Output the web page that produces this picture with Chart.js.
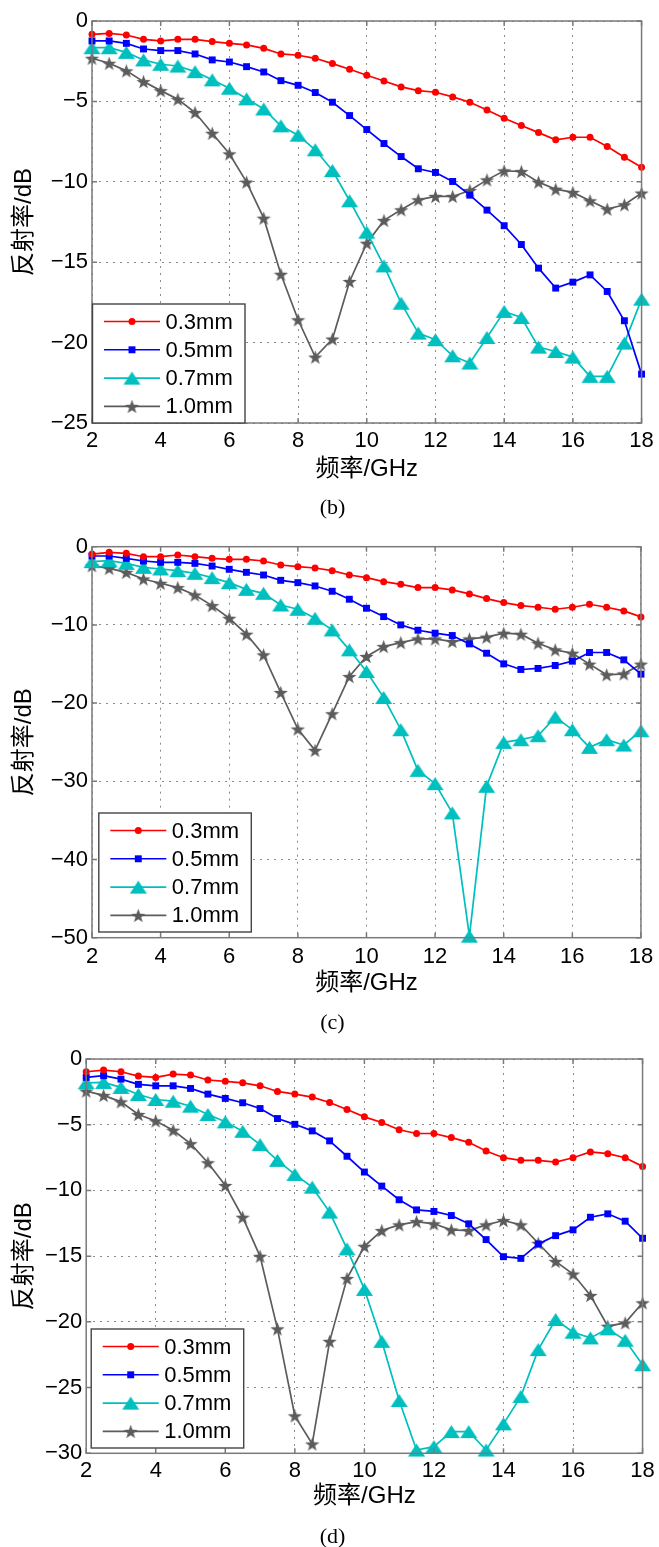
<!DOCTYPE html>
<html>
<head>
<meta charset="utf-8">
<script src="https://cdn.jsdelivr.net/npm/chart.js@4.4.0/dist/chart.umd.min.js"></script>
<style>
    html, body { margin: 0; padding: 0; background: #fff; }
    body { width: 659px; height: 1547px; position: relative; overflow: hidden; }
    .panel { position: absolute; left: 0; width: 659px; }
    .caption {
        position: absolute; left: 3px; width: 659px; text-align: center;
        font-family: 'Liberation Serif', 'Times New Roman', serif;
        font-size: 22px; line-height: 22px; color: #000;
    }
</style>
</head>
<body>
<div class="panel" style="top:0px"><canvas id="chartB" width="659" height="496"></canvas></div>
<div class="caption" style="top:496px">(b)</div>
<div class="panel" style="top:524px"><canvas id="chartC" width="659" height="487"></canvas></div>
<div class="caption" style="top:1011px">(c)</div>
<div class="panel" style="top:1039px"><canvas id="chartD" width="659" height="486"></canvas></div>
<div class="caption" style="top:1525px">(d)</div>

<script>
// frequency points (GHz)
const freq = [2, 2.5, 3, 3.5, 4, 4.5, 5, 5.5, 6, 6.5, 7, 7.5, 8, 8.5, 9, 9.5, 10,
    10.5, 11, 11.5, 12, 12.5, 13, 13.5, 14, 14.5, 15, 15.5, 16, 16.5, 17, 17.5, 18];
const seriesLabels = ['0.3mm', '0.5mm', '0.7mm', '1.0mm'];
const xTicks = [2, 4, 6, 8, 10, 12, 14, 16, 18];

// (b)
const yTicksB = [0, -5, -10, -15, -20, -25];
const b03 = [-0.83, -0.77, -0.87, -1.14, -1.24, -1.14, -1.14, -1.28, -1.39, -1.49, -1.70, -2.05, -2.13, -2.32, -2.65, -3.00, -3.37,
    -3.73, -4.10, -4.33, -4.43, -4.72, -5.05, -5.53, -6.05, -6.50, -6.94, -7.39, -7.23, -7.23, -7.80, -8.47, -9.09];
const b05 = [-1.24, -1.24, -1.39, -1.74, -1.84, -1.84, -2.05, -2.42, -2.55, -2.84, -3.17, -3.71, -4.00, -4.45, -5.05, -5.88, -6.75,
    -7.62, -8.43, -9.19, -9.42, -9.98, -10.83, -11.76, -12.73, -13.90, -15.37, -16.61, -16.24, -15.79, -16.82, -18.64, -21.96];
const b07 = [-1.66, -1.66, -1.95, -2.42, -2.69, -2.80, -3.15, -3.66, -4.18, -4.84, -5.47, -6.52, -7.10, -8.01, -9.30, -11.18, -13.13,
    -15.23, -17.55, -19.41, -19.82, -20.82, -21.27, -19.68, -18.06, -18.44, -20.28, -20.55, -20.90, -22.10, -22.10, -20.03, -17.30];
const b10 = [-2.32, -2.63, -3.10, -3.77, -4.33, -4.87, -5.69, -6.98, -8.26, -10.02, -12.26, -15.75, -18.58, -20.90, -19.78, -16.20, -13.82,
    -12.40, -11.74, -11.12, -10.91, -10.91, -10.54, -9.88, -9.32, -9.36, -10.02, -10.46, -10.66, -11.18, -11.70, -11.43, -10.70];

// (c)
const yTicksC = [0, -10, -20, -30, -40, -50];
const c03 = [-0.94, -0.72, -0.85, -1.28, -1.28, -1.06, -1.28, -1.49, -1.62, -1.62, -1.83, -2.34, -2.55, -2.72, -3.06, -3.62, -3.96,
    -4.47, -4.81, -5.23, -5.23, -5.53, -6.04, -6.64, -7.15, -7.53, -7.74, -8.00, -7.74, -7.36, -7.74, -8.21, -8.98];
const c05 = [-1.19, -1.19, -1.49, -1.83, -2.00, -2.00, -2.13, -2.47, -2.89, -3.28, -3.62, -4.30, -4.60, -5.02, -5.70, -6.72, -7.87,
    -8.94, -10.00, -10.68, -11.06, -11.36, -12.43, -13.62, -14.98, -15.70, -15.57, -15.19, -14.64, -13.53, -13.53, -14.47, -16.30];
const c07 = [-1.91, -1.79, -2.13, -2.64, -2.85, -3.06, -3.40, -3.96, -4.60, -5.45, -5.96, -7.45, -8.00, -9.15, -10.64, -13.19, -15.96,
    -19.28, -23.40, -28.60, -30.30, -34.04, -49.80, -30.64, -25.02, -24.68, -24.17, -21.79, -23.40, -25.66, -24.68, -25.36, -23.53];
const c10 = [-2.43, -2.77, -3.28, -4.13, -4.68, -5.23, -6.17, -7.53, -9.15, -11.19, -13.83, -18.64, -23.32, -26.04, -21.36, -16.60, -14.04,
    -12.77, -12.26, -11.79, -11.79, -12.13, -11.79, -11.57, -11.06, -11.19, -12.34, -13.19, -13.62, -15.02, -16.38, -16.26, -15.02];

// (d)
const yTicksD = [0, -5, -10, -15, -20, -25, -30];
const d03 = [-0.97, -0.84, -0.97, -1.30, -1.40, -1.15, -1.22, -1.60, -1.70, -1.81, -2.04, -2.47, -2.67, -2.90, -3.31, -3.84, -4.40,
    -4.83, -5.38, -5.67, -5.67, -5.98, -6.34, -7.00, -7.51, -7.71, -7.71, -7.84, -7.51, -7.07, -7.20, -7.51, -8.17];
const d05 = [-1.40, -1.27, -1.53, -1.93, -2.04, -2.04, -2.24, -2.67, -3.00, -3.33, -3.77, -4.53, -4.97, -5.47, -6.23, -7.40, -8.60,
    -9.67, -10.71, -11.48, -11.60, -11.91, -12.54, -13.74, -15.04, -15.17, -14.07, -13.44, -13.00, -12.04, -11.78, -12.34, -13.64];
const d07 = [-1.81, -1.78, -2.16, -2.70, -3.08, -3.21, -3.59, -4.22, -4.78, -5.50, -6.51, -7.71, -8.78, -9.75, -11.65, -14.45, -17.53,
    -21.48, -25.98, -29.75, -29.49, -28.35, -28.35, -29.75, -27.76, -25.67, -22.11, -19.82, -20.79, -21.22, -20.53, -21.40, -23.26];
const d10 = [-2.44, -2.77, -3.26, -4.22, -4.71, -5.42, -6.44, -7.89, -9.62, -12.04, -15.01, -20.53, -27.15, -29.29, -21.48, -16.70, -14.25,
    -13.05, -12.62, -12.37, -12.54, -13.00, -13.05, -12.62, -12.29, -12.62, -14.02, -15.40, -16.36, -17.99, -20.33, -20.08, -18.55];

Chart.defaults.font.family = "'Liberation Sans', Arial, 'Noto Sans CJK SC', sans-serif";
Chart.defaults.font.size = 22;
Chart.defaults.color = '#000';

// marker images (MATLAB-like filled triangle and pentagram)
function makeTriangle(w, h, color) {
    const c = document.createElement('canvas');
    c.width = w + 2; c.height = h + 2;
    const g = c.getContext('2d');
    g.fillStyle = color;
    g.beginPath();
    g.moveTo(c.width / 2, 1);
    g.lineTo(1, h + 1);
    g.lineTo(w + 1, h + 1);
    g.closePath();
    g.fill();
    return c;
}

function makeStar(r, color) {
    const s = Math.ceil(r * 2 + 2);
    const c = document.createElement('canvas');
    c.width = s; c.height = s;
    const g = c.getContext('2d');
    g.fillStyle = color;
    g.beginPath();
    for (let i = 0; i < 10; i++) {
        const rr = i % 2 ? r * 0.4 : r;
        const a = -Math.PI / 2 + i * Math.PI / 5;
        g.lineTo(s / 2 + rr * Math.cos(a), s / 2 + 0.8 + rr * Math.sin(a));
    }
    g.closePath();
    g.fill();
    return c;
}

const cyan = '#00bfbf';
const gray = '#5c5c5c';
const triImg = makeTriangle(17, 13, cyan);
const starImg = makeStar(7.5, gray);

const styles = [
    { borderColor: '#ff0000', backgroundColor: '#ff0000', pointStyle: 'circle', pointRadius: 3.5 },
    { borderColor: '#0000ff', backgroundColor: '#0000ff', pointStyle: 'rect', pointRadius: 4.9 },
    { borderColor: cyan, backgroundColor: cyan, pointStyle: triImg, pointRadius: 8 },
    { borderColor: gray, backgroundColor: gray, pointStyle: starImg, pointRadius: 8 }
];

function drawMarker(ctx, st, x, y) {
    const ps = st.pointStyle;
    ctx.fillStyle = st.backgroundColor;
    if (ps === 'circle') {
        ctx.beginPath();
        ctx.arc(x, y, st.pointRadius, 0, Math.PI * 2);
        ctx.fill();
    } else if (ps === 'rect') {
        const h = st.pointRadius * Math.SQRT1_2;
        ctx.fillRect(x - h, y - h, 2 * h, 2 * h);
    } else {
        ctx.drawImage(ps, x - ps.width / 2, y - ps.height / 2);
    }
}

// axes box, inward ticks and legend inside plot (lower-left)
const boxPlugin = {
    id: 'boxLegend',
    afterDraw(chart, args, opts) {
        const ctx = chart.ctx;
        const a = chart.chartArea;
        const xs = chart.scales.x, ys = chart.scales.y;
        ctx.save();
        ctx.strokeStyle = '#7a7a7a';
        ctx.lineWidth = 1.5;
        ctx.beginPath();
        xs.ticks.forEach(t => {
            const px = xs.getPixelForValue(t.value);
            ctx.moveTo(px, a.bottom); ctx.lineTo(px, a.bottom - 5);
            ctx.moveTo(px, a.top); ctx.lineTo(px, a.top + 5);
        });
        ys.ticks.forEach(t => {
            const py = ys.getPixelForValue(t.value);
            ctx.moveTo(a.left, py); ctx.lineTo(a.left + 5, py);
            ctx.moveTo(a.right, py); ctx.lineTo(a.right - 5, py);
        });
        ctx.stroke();
        ctx.strokeRect(a.left, a.top, a.right - a.left, a.bottom - a.top);

        // legend
        const w = 152.5, h = 119;
        const lx = a.left + opts.dx, ly = a.bottom - opts.dy - h;
        ctx.fillStyle = '#fff';
        ctx.fillRect(lx, ly, w, h);
        ctx.strokeStyle = '#444';
        ctx.lineWidth = 1.4;
        ctx.strokeRect(lx, ly, w, h);
        ctx.font = "22px 'Liberation Sans', Arial, sans-serif";
        ctx.textBaseline = 'middle';
        ctx.textAlign = 'left';
        chart.data.datasets.forEach((ds, i) => {
            const y = ly + 17.5 + i * 28.3;
            ctx.strokeStyle = ds.borderColor;
            ctx.lineWidth = 1.6;
            ctx.beginPath();
            ctx.moveTo(lx + 11.5, y); ctx.lineTo(lx + 67.5, y);
            ctx.stroke();
            drawMarker(ctx, styles[i], lx + 39.5, y);
            ctx.fillStyle = '#000';
            ctx.fillText(ds.label, lx + 73, y + 1);
        });
        ctx.restore();
    }
};

const minusSign = v => String(v).replace('-', '\u2212');

function makeChart(id, series, yTicks, lay) {
    const canvas = document.getElementById(id);
    return new Chart(canvas, {
        type: 'line',
        data: {
            datasets: series.map((vals, i) => ({
                label: seriesLabels[i],
                data: vals.map((v, j) => ({ x: freq[j], y: v })),
                borderColor: styles[i].borderColor,
                backgroundColor: styles[i].backgroundColor,
                pointBackgroundColor: styles[i].backgroundColor,
                pointBorderWidth: 0,
                pointStyle: styles[i].pointStyle,
                pointRadius: styles[i].pointRadius,
                borderWidth: 1.7,
                tension: 0,
                fill: false,
                clip: false
            }))
        },
        options: {
            responsive: false,
            animation: false,
            devicePixelRatio: 1,
            layout: { padding: { top: lay.padTop, left: 0, right: 15.5, bottom: 0 } },
            plugins: {
                legend: { display: false },
                tooltip: { enabled: false },
                boxLegend: { dx: lay.dx, dy: lay.dy }
            },
            scales: {
                x: {
                    type: 'linear',
                    min: xTicks[0],
                    max: xTicks[xTicks.length - 1],
                    afterBuildTicks: s => { s.ticks = xTicks.map(v => ({ value: v })); },
                    afterFit: s => { s.height = lay.xh; },
                    ticks: { color: '#000', padding: lay.xPad, maxRotation: 0, autoSkip: false, callback: minusSign },
                    grid: { color: '#8c8c8c', lineWidth: 1, drawTicks: false },
                    border: { display: false, dash: [2, 5] },
                    title: { display: true, text: '频率/GHz', color: '#000', font: { size: 24 },
                        padding: { top: 0, bottom: lay.xtPad - 1.2 } }
                },
                y: {
                    type: 'linear',
                    min: yTicks[yTicks.length - 1],
                    max: yTicks[0],
                    afterBuildTicks: s => { s.ticks = yTicks.slice().reverse().map(v => ({ value: v })); },
                    afterFit: s => { s.width = lay.yw; },
                    ticks: { color: '#000', padding: 4, autoSkip: false, callback: minusSign },
                    grid: { color: '#8c8c8c', lineWidth: 1, drawTicks: false },
                    border: { display: false, dash: [2, 5] },
                    title: { display: true, text: '反射率/dB', color: '#000', font: { size: 24 },
                        padding: { top: 9.6, bottom: 0 } }
                }
            }
        },
        plugins: [boxPlugin]
    });
}

makeChart('chartB', [b03, b05, b07, b10], yTicksB,
    { padTop: 21, xh: 73, xPad: 5.2, xtPad: 13.5, yw: 92, dx: 0.5, dy: 0 });
makeChart('chartC', [c03, c05, c07, c10], yTicksC,
    { padTop: 22.7, xh: 73.3, xPad: 5.8, xtPad: 14.5, yw: 92, dx: 6.8, dy: 5.7 });
makeChart('chartD', [d03, d05, d07, d10], yTicksD,
    { padTop: 20, xh: 71.7, xPad: 4.2, xtPad: 15.1, yw: 86.2, dx: 5, dy: 5.3 });
</script>
</body>
</html>
